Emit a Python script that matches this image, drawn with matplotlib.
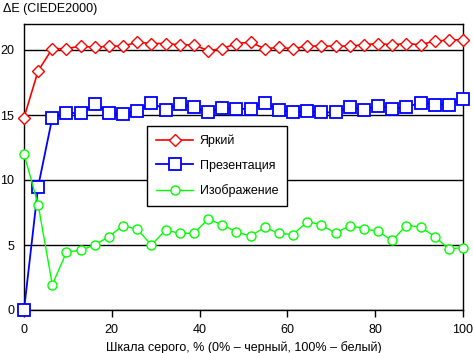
import numpy as np
import matplotlib
matplotlib.use('Agg')
import matplotlib.pyplot as plt

plt.rcParams['font.family'] = ['Liberation Sans', 'DejaVu Sans']

x = np.linspace(0, 100, 32)

bright = [14.8, 18.4, 20.1, 20.1, 20.3, 20.2, 20.3, 20.3, 20.6, 20.5, 20.5,
          20.4, 20.4, 19.95, 20.1, 20.5, 20.6, 20.1, 20.2, 20.1, 20.3, 20.3,
          20.3, 20.3, 20.4, 20.5, 20.4, 20.5, 20.4, 20.7, 20.75, 20.8]
present = [0.0, 9.5, 14.8, 15.15, 15.15, 15.85, 15.15, 15.1, 15.3, 15.95, 15.4,
           15.85, 15.6, 15.2, 15.55, 15.45, 15.5, 15.95, 15.4, 15.2, 15.3, 15.2,
           15.2, 15.6, 15.4, 15.7, 15.5, 15.6, 15.95, 15.8, 15.8, 16.2]
image = [12.0, 8.1, 1.95, 4.45, 4.6, 5.0, 5.65, 6.5, 6.2, 5.0, 6.15,
         5.9, 5.9, 7.0, 6.55, 6.0, 5.7, 6.35, 5.9, 5.8, 6.8, 6.55,
         5.9, 6.5, 6.25, 6.05, 5.35, 6.5, 6.4, 5.65, 4.7, 4.8]

labels = ['Яркий', 'Презентация', 'Изображение']

fig = plt.figure(figsize=(4.73, 3.53), dpi=100)
ax = fig.add_axes([24/473, 43/353, 439/473, 286/353])

ax.plot(x, bright, color='#ff0000', lw=1.2, marker='D', ms=6.5, mfc='white',
        mec='#ff0000', mew=1.0, label=labels[0], clip_on=False, zorder=3)
ax.plot(x, present, color='#0000ff', lw=1.3, marker='s', ms=8, mfc='white',
        mec='#0000ff', mew=1.3, label=labels[1], clip_on=False, zorder=3)
ax.plot(x, image, color='#00ff00', lw=1.0, marker='o', ms=6.5, mfc='white',
        mec='#00ff00', mew=1.0, label=labels[2], clip_on=False, zorder=3)

ax.set_xlim(0, 100)
ax.set_ylim(0, 22)
ax.set_xticks([0, 20, 40, 60, 80, 100])
ax.set_yticks([0, 5, 10, 15, 20])
ax.yaxis.grid(True, color='black', lw=1.0)
ax.set_axisbelow(True)
for s in ax.spines.values():
    s.set_linewidth(1.0)
ax.tick_params(axis='x', length=5, width=1, labelsize=9, pad=5)
ax.tick_params(axis='y', length=0, labelsize=9, pad=7)

ax.set_xlabel('Шкала серого, % (0% – черный, 100% – белый)', fontsize=9, labelpad=4)
fig.text(3/473, 1 - 9/353, 'ΔE (CIEDE2000)', fontsize=9, va='center', ha='left')

leg = ax.legend(loc='upper left', bbox_to_anchor=(123/439, (310-126)/286),
                borderaxespad=0, fontsize=9, frameon=True, fancybox=False,
                framealpha=1, edgecolor='black', borderpad=0.7,
                labelspacing=1.0, handlelength=3.0, handletextpad=0.5)
leg.get_frame().set_linewidth(1.0)

fig.savefig('out.png', dpi=100)
